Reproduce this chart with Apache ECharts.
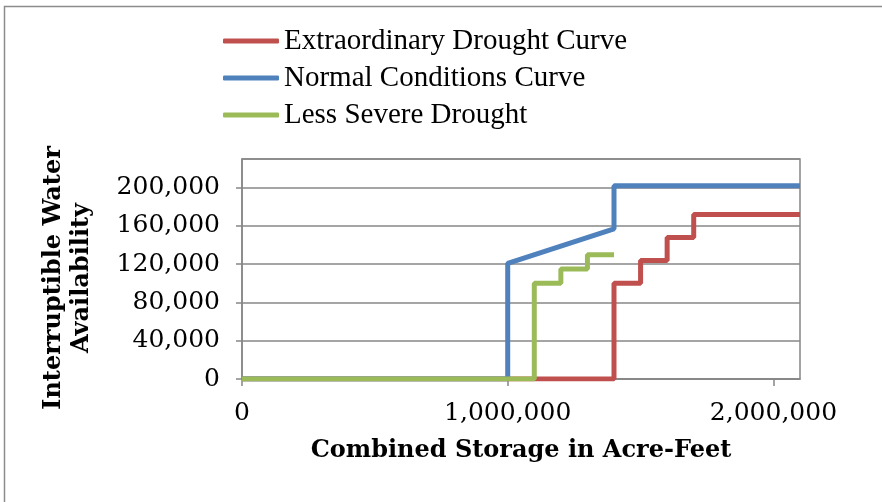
<!DOCTYPE html>
<html>
<head>
<meta charset="utf-8">
<script src="https://cdn.jsdelivr.net/npm/echarts@6/dist/echarts.min.js"></script>
<style>
html, body { margin: 0; padding: 0; background: #fff; }
#divChart { width: 882px; height: 502px; }
</style>
</head>
<body>
<div id="divChart"></div>
<script>
var seriesNames = ['Extraordinary Drought Curve', 'Normal Conditions Curve', 'Less Severe Drought'];

// storage (acre-feet) / availability pairs, step curves
var extraX = [0, 1400000, 1400000, 1500000, 1500000, 1600000, 1600000, 1700000, 1700000, 2100000];
var extraY = [0, 0, 100000, 100000, 124000, 124000, 148000, 148000, 172000, 172000];

var normalX = [0, 1000000, 1000000, 1400000, 1400000, 2100000];
var normalY = [0, 0, 121000, 157000, 202000, 202000];

var lessX = [0, 1100000, 1100000, 1200000, 1200000, 1300000, 1300000, 1400000];
var lessY = [0, 0, 100000, 100000, 115000, 115000, 130000, 130000];

var myChart = echarts.init(document.getElementById('divChart'));

function pairs(xs, ys) {
    var out = [];
    for (var i = 0; i < xs.length; i++) {
        out.push([xs[i], ys[i]]);
    }
    return out;
}

function fmt(v) {
    return Number(v).toLocaleString('en-US');
}

var gridColor = '#878787';
var colors = ['#C0504D', '#4F81BD', '#9BBB59'];

function buildSeries() {
    var data = [pairs(extraX, extraY), pairs(normalX, normalY), pairs(lessX, lessY)];
    var result = [];
    for (var i = 0; i < data.length; i++) {
        result.push({
            name: seriesNames[i],
            type: 'line',
            data: data[i],
            showSymbol: false,
            symbol: 'none',
            z: 2 + i,
            lineStyle: { color: colors[i], width: 5 },
            itemStyle: { color: colors[i] }
        });
    }
    return result;
}

var option = {
    animation: false,
    color: colors,
    legend: {
        orient: 'vertical',
        left: 218,
        top: 21,
        itemWidth: 56,
        itemHeight: 5,
        itemGap: 7,
        icon: 'roundRect',
        textStyle: { fontFamily: 'Liberation Serif', fontSize: 29, lineHeight: 30, color: '#000' },
        data: seriesNames
    },
    grid: {
        left: 242,
        right: 82,
        top: 159,
        bottom: 123,
        show: true,
        borderColor: gridColor,
        borderWidth: 1.5
    },
    xAxis: {
        type: 'value',
        min: 0,
        max: 2100000,
        interval: 1000000,
        name: 'Combined Storage in Acre-Feet',
        nameLocation: 'middle',
        nameGap: 60,
        nameTextStyle: { fontFamily: 'DejaVu Serif', fontWeight: 'bold', fontSize: 24, color: '#000' },
        axisLine: { show: true, lineStyle: { color: gridColor, width: 1.5 } },
        axisTick: { show: true, length: 7, lineStyle: { color: gridColor, width: 1.5 } },
        splitLine: { show: false },
        axisLabel: {
            showMaxLabel: false,
            margin: 22,
            fontFamily: 'DejaVu Serif',
            fontSize: 25,
            color: '#000',
            formatter: fmt
        }
    },
    yAxis: {
        type: 'value',
        min: 0,
        max: 230000,
        interval: 40000,
        name: 'Interruptible Water\nAvailability',
        nameLocation: 'middle',
        nameRotate: 90,
        nameGap: 146,
        nameTextStyle: { fontFamily: 'DejaVu Serif', fontWeight: 'bold', fontSize: 24, lineHeight: 28, color: '#000', padding: [0, 18, 0, 0] },
        axisLine: { show: true, lineStyle: { color: gridColor, width: 1.5 } },
        axisTick: { show: true, length: 6, lineStyle: { color: gridColor, width: 1.5 } },
        splitLine: { show: true, lineStyle: { color: gridColor, width: 1.5 } },
        axisLabel: {
            showMaxLabel: false,
            margin: 22,
            fontFamily: 'DejaVu Serif',
            fontSize: 25,
            color: '#000',
            formatter: fmt
        }
    },
    graphic: [{
        type: 'rect',
        silent: true,
        shape: { x: 4.5, y: 6.5, width: 900, height: 520 },
        style: { fill: 'none', stroke: '#8c8c8c', lineWidth: 1.5 }
    }],
    series: buildSeries()
};

myChart.setOption(option);
</script>
</body>
</html>
